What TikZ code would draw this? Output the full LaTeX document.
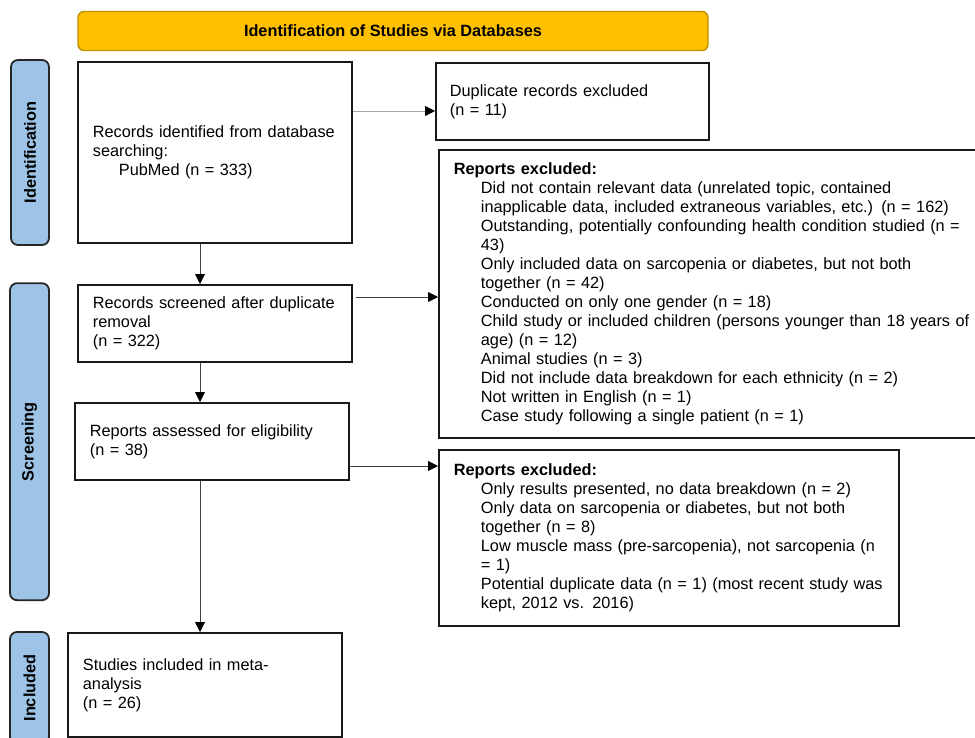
\documentclass[tikz,border=0pt]{standalone}
\usepackage{fontspec}
\setmainfont{Liberation Sans}
\usepackage{tikz}
\usetikzlibrary{arrows.meta}
\usepackage{color}

\definecolor{hdrfill}{HTML}{FFC000}
\definecolor{hdrline}{HTML}{BF9000}
\definecolor{barfill}{HTML}{9DC3E6}
\newcommand\diafont{\fontsize{16.3pt}{19pt}\selectfont}

\tikzset{
  box/.style = {rectangle, draw = black!90, line width = 1.8pt, anchor = north west,
                inner xsep = 0pt, inner ysep = 0pt, align = left, font = \diafont,
                execute at begin node = {\leftskip=15pt\relax}},
  exclbox/.style = {box, execute at begin node = {\leftskip=42pt\relax}},
  bar/.style = {rectangle, rounded corners = 7pt, draw = black!85, line width = 1.8pt,
                fill = barfill, rotate = 90, font = \diafont\bfseries},
  arr/.style = {draw = black!75, line width = 0.9pt,
                -{Triangle[length = 10pt, width = 10pt, color = black]}}
}

\begin{document}
\begin{tikzpicture}[x = 1pt, y = -1pt]
            \clip (0, 0) rectangle (975, 737);

            \node (head) at (393, 31) [rectangle, rounded corners = 6pt, draw = hdrline, line width = 1.4pt,
                fill = hdrfill, minimum width = 630pt, minimum height = 39pt, font = \diafont\bfseries]
                {Identification of Studies via Databases};

            \node (idbar) at (30, 152.5) [bar, minimum width = 185pt, minimum height = 38pt]{Identification};
            \node (scbar) at (29.5, 441.7) [bar, minimum width = 317pt, minimum height = 39pt]{Screening};
            \node (inbar) at (29.5, 688) [bar, minimum width = 112pt, minimum height = 39pt]{Included};

            \node (ident) at (77, 61) [box, text width = 274pt, minimum height = 181pt]
                {Records identified from database\\ searching:\\ \hspace*{26pt}PubMed (n = 333)};
            \node (dup) at (435, 62) [box, text width = 273pt, minimum height = 77pt,
                execute at begin node = {\leftskip=14pt\relax}]
                {Duplicate records excluded\\ (n = 11)};
            \node (screened) at (77, 284) [box, text width = 274pt, minimum height = 77pt]
                {Records screened after duplicate\\ removal\\ (n = 322)};
            \node (excl1) at (438, 149) [exclbox, text width = 547pt, minimum height = 288pt]
                {\hspace*{-27pt}\textbf{Reports excluded:}\\
                 Did not contain relevant data (unrelated topic, contained\\
                 inapplicable data, included extraneous variables, etc.) (n = 162)\\
                 Outstanding, potentially confounding health condition studied (n =\\
                 43)\\
                 Only included data on sarcopenia or diabetes, but not both\\
                 together (n = 42)\\
                 Conducted on only one gender (n = 18)\\
                 Child study or included children (persons younger than 18 years of\\
                 age) (n = 12)\\
                 Animal studies (n = 3)\\
                 Did not include data breakdown for each ethnicity (n = 2)\\
                 Not written in English (n = 1)\\
                 Case study following a single patient (n = 1)};
            \node (assessed) at (74, 402) [box, text width = 274pt, minimum height = 77pt]
                {Reports assessed for eligibility\\ (n = 38)};
            \node (excl2) at (438, 449) [exclbox, text width = 460pt, minimum height = 176pt]
                {\hspace*{-27pt}\textbf{Reports excluded:}\\
                 Only results presented, no data breakdown (n = 2)\\
                 Only data on sarcopenia or diabetes, but not both\\
                 together (n = 8)\\
                 Low muscle mass (pre-sarcopenia), not sarcopenia (n\\
                 = 1)\\
                 Potential duplicate data (n = 1) (most recent study was\\
                 kept, 2012 vs. 2016)\par\vspace*{6pt}};
            \node (incl) at (67, 632) [box, text width = 274pt, minimum height = 104pt]
                {Studies included in meta-\\ analysis\\ (n = 26)};

            \coordinate (col) at (200, 0);
            \draw[arr] (ident.south -| col) -- (screened.north -| col);
            \draw[arr] (screened.south -| col) -- (assessed.north -| col);
            \draw[arr] (assessed.south -| col) -- (incl.north -| col);

            \draw[arr, draw = black!35] ([yshift = -50pt]ident.north east) -- ([yshift = -49pt]dup.north west);
            \draw[arr] ([xshift = 3pt, yshift = -13pt]screened.north east) -- ([yshift = -148pt]excl1.north west);
            \draw[arr] ([yshift = -64pt]assessed.north east) -- ([yshift = -17pt]excl2.north west);
        \end{tikzpicture}
\end{document}
